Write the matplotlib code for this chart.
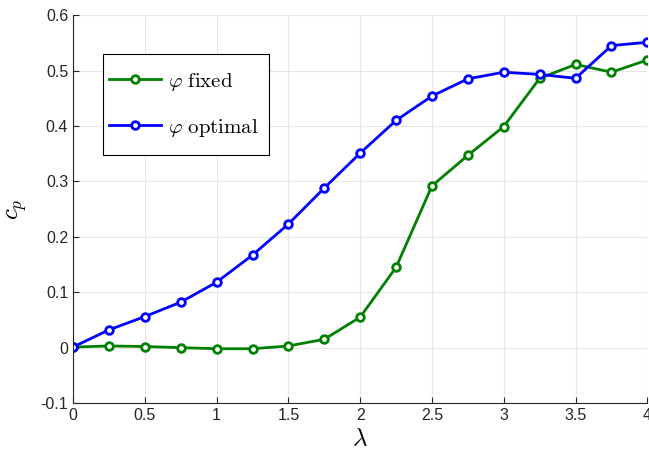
import matplotlib.pyplot as plt
from matplotlib.patches import Rectangle

# Дані: коефіцієнт потужності c_p залежно від λ
lam = [0, 0.25, 0.5, 0.75, 1, 1.25, 1.5, 1.75, 2, 2.25, 2.5, 2.75, 3, 3.25, 3.5, 3.75, 4]
cp_fixed = [0.001, 0.003, 0.002, 0.000, -0.002, -0.002, 0.003, 0.015, 0.055, 0.145,
            0.292, 0.347, 0.399, 0.486, 0.511, 0.497, 0.519]
cp_optimal = [0.001, 0.032, 0.056, 0.082, 0.118, 0.167, 0.223, 0.288, 0.351, 0.410,
              0.454, 0.485, 0.497, 0.493, 0.486, 0.545, 0.551]

plt.rcParams['mathtext.fontset'] = 'cm'
plt.rcParams['font.family'] = 'Liberation Sans'

fig = plt.figure(figsize=(6.49, 4.58), dpi=100)
ax = fig.add_axes([0.1125, 0.120, 0.885, 0.847])

ax.plot(lam, cp_fixed, color=(0, 0.5, 0), lw=2, marker='o', ms=5.5, mfc='white',
        mew=2, label=r'$\varphi\ \mathrm{fixed}$')
ax.plot(lam, cp_optimal, color=(0, 0, 1), lw=2, marker='o', ms=5.5, mfc='white',
        mew=2, label=r'$\varphi\ \mathrm{optimal}$')

ax.set_xlim(0, 4)
ax.set_ylim(-0.1, 0.6)
ax.set_xticks([0, 0.5, 1, 1.5, 2, 2.5, 3, 3.5, 4])
ax.set_xticklabels(['0', '0.5', '1', '1.5', '2', '2.5', '3', '3.5', '4'])
ax.set_yticks([-0.1, 0, 0.1, 0.2, 0.3, 0.4, 0.5, 0.6])
ax.set_yticklabels(['-0.1', '0', '0.1', '0.2', '0.3', '0.4', '0.5', '0.6'])
ax.tick_params(labelsize=11.5, colors='#262626', direction='in', length=4)

ax.grid(True, color='#e6e6e6', lw=0.8)
ax.set_axisbelow(True)
ax.spines['top'].set_visible(False)
ax.spines['right'].set_visible(False)
for s in ('left', 'bottom'):
    ax.spines[s].set_color('#262626')

ax.set_xlabel(r'$\lambda$', fontsize=18, labelpad=2)
ax.set_ylabel(r'$c_p$', fontsize=18, labelpad=8)

# рамка легенди окремо, щоб мати більші вертикальні відступи
box_x0, box_x1, box_y0, box_y1 = 0.0523, 0.3415, 0.639, 0.8995
ax.add_patch(Rectangle((box_x0, box_y0), box_x1 - box_x0, box_y1 - box_y0,
                       transform=ax.transAxes, facecolor='white', edgecolor='black',
                       lw=0.8, zorder=4))
leg = ax.legend(loc='center left', bbox_to_anchor=(box_x0, (box_y0 + box_y1) / 2),
                borderaxespad=0, fontsize=15, frameon=False, borderpad=0.3,
                labelspacing=1.15, handlelength=2.5, handletextpad=0.3)
leg.set_zorder(5)

plt.savefig('out.png', dpi=100)
